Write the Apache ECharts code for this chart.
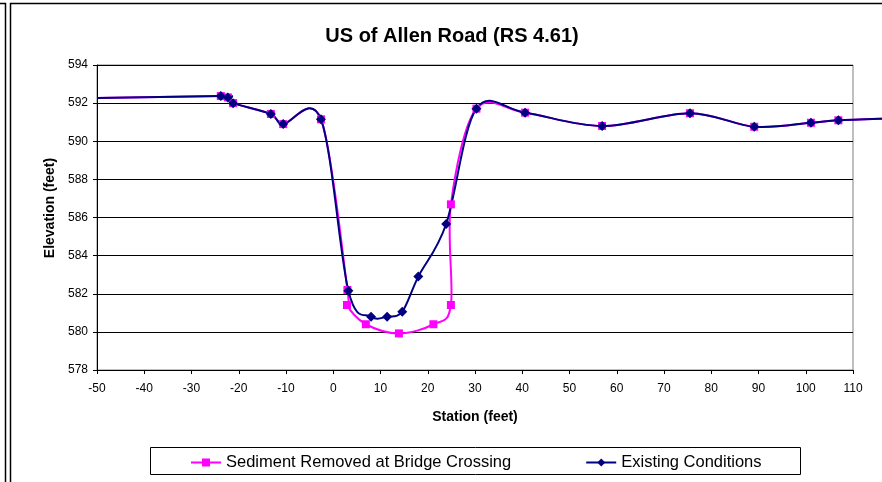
<!DOCTYPE html>
<html>
<head>
<meta charset="utf-8">
<script src="https://cdn.jsdelivr.net/npm/echarts@6/dist/echarts.min.js"></script>
<style>
  html, body { margin: 0; padding: 0; background: #fff; }
  #chart { width: 882px; height: 482px; }
</style>
</head>
<body>
<div id="chart"></div>
<script>
// station (feet) / elevation (feet)
const sedimentX = [-50, -23.8, -22.3, -21.2, -13.2, -10.6, -2.6, 3.0, 2.9, 6.9, 13.9, 21.2, 24.9, 24.9, 30.3, 40.6, 56.9, 75.5, 89.1, 101.1, 106.9, 118]
const sedimentY = [592.27, 592.37, 592.3, 592.0, 591.43, 590.9, 591.15, 582.2, 581.41, 580.4, 579.92, 580.4, 581.41, 586.69, 591.71, 591.5, 590.8, 591.47, 590.76, 590.97, 591.1, 591.2]
const existingX = [-50, -23.8, -22.3, -21.2, -13.2, -10.6, -2.6, 3.2, 8.0, 11.4, 14.6, 18.0, 23.9, 30.3, 40.6, 56.9, 75.5, 89.1, 101.1, 106.9, 118]
const existingY = [592.27, 592.37, 592.3, 592.0, 591.43, 590.9, 591.15, 582.16, 580.8, 580.8, 581.06, 582.9, 585.66, 591.71, 591.5, 590.8, 591.47, 590.76, 590.97, 591.1, 591.2]

const font = 'Liberation Sans, Arial, sans-serif'
const PINK = '#ff00ff'
const NAVY = '#000080'

// end points sit on / past the frame and carry no marker
function toData (xs, ys) {
    return xs.map((x, i) => {
        const item = { value: [x, ys[i]] }
        if (x <= -50 || x > 110) item.symbol = 'none'
        return item
    })
}

// excel-style smoothed line (catmull-rom bezier in screen space)
function smoothPath (pts) {
    let d = 'M' + pts[0][0] + ' ' + pts[0][1]
    for (let i = 0; i < pts.length - 1; i++) {
        const p0 = pts[Math.max(0, i - 1)], p1 = pts[i], p2 = pts[i + 1], p3 = pts[Math.min(pts.length - 1, i + 2)]
        const c1 = [p1[0] + (p2[0] - p0[0]) / 6, p1[1] + (p2[1] - p0[1]) / 6]
        const c2 = [p2[0] - (p3[0] - p1[0]) / 6, p2[1] - (p3[1] - p1[1]) / 6]
        d += 'C' + c1[0] + ' ' + c1[1] + ' ' + c2[0] + ' ' + c2[1] + ' ' + p2[0] + ' ' + p2[1]
    }
    return d
}

function curveSeries (xs, ys, color) {
    return {
        type: 'custom', coordinateSystem: 'cartesian2d', silent: true,
        data: xs.map((x, i) => [x, ys[i]]),
        encode: { x: 0, y: 1 },
        renderItem (params, api) {
            if (params.dataIndex !== 0) return null
            const pts = xs.map((x, i) => api.coord([x, ys[i]]))
            return {
                type: 'path',
                shape: { pathData: smoothPath(pts) },
                style: { fill: null, stroke: color, lineWidth: 2 }
            }
        }
    }
}

function markerSeries (name, xs, ys, color, symbol, size) {
    return {
        name, type: 'line', clip: false,
        data: toData(xs, ys),
        symbol, symbolSize: size, showSymbol: true,
        lineStyle: { color, width: 2, opacity: 0 },
        itemStyle: { color }
    }
}

const ec = echarts.init(document.getElementById('chart'))
ec.setOption({
    animation: false,
    title: {
        text: 'US of Allen Road (RS 4.61)',
        left: 447, top: 21, textAlign: 'center',
        textStyle: { fontFamily: font, fontSize: 20, fontWeight: 'bold', color: '#000' }
    },
    grid: { left: 97, right: 29, top: 65, bottom: 112, show: true, borderColor: '#808080', borderWidth: 1 },
    xAxis: {
        type: 'value', min: -50, max: 110, interval: 10,
        name: 'Station (feet)', nameLocation: 'middle', nameGap: 40,
        nameTextStyle: { fontFamily: font, fontSize: 14, fontWeight: 'bold', color: '#000' },
        axisLine: { onZero: false, lineStyle: { color: '#000' } },
        axisTick: { length: 4, lineStyle: { color: '#000' } },
        axisLabel: { fontFamily: font, fontSize: 12, color: '#000', margin: 13 },
        splitLine: { show: false }
    },
    yAxis: {
        type: 'value', min: 578, max: 594, interval: 2,
        axisLine: { show: true, onZero: false, lineStyle: { color: '#000' } },
        axisTick: { show: true, length: 4, lineStyle: { color: '#000' } },
        axisLabel: { fontFamily: font, fontSize: 12, color: '#000', margin: 9 },
        splitLine: { show: true, lineStyle: { color: '#000', width: 1 } }
    },
    legend: {
        left: 190, top: 454, padding: 0, itemWidth: 30, itemHeight: 10, itemGap: 74,
        textStyle: { fontFamily: font, fontSize: 16.5, color: '#000' },
        lineStyle: { width: 2, opacity: 1 },
        data: ['Sediment Removed at Bridge Crossing', 'Existing Conditions']
    },
    graphic: [
        { type: 'rect', shape: { x: 150.5, y: 447.5, width: 650, height: 27 }, style: { fill: null, stroke: '#000', lineWidth: 1 }, z: -1 },
        { type: 'polyline', shape: { points: [[0, 3.5], [5.5, 3.5], [5.5, 482]] }, style: { fill: null, stroke: '#000', lineWidth: 1.5 } },
        { type: 'polyline', shape: { points: [[10.5, 482], [10.5, 3.5], [882, 3.5]] }, style: { fill: null, stroke: '#000', lineWidth: 1.5 } },
        {
            type: 'text', x: 50, y: 208, rotation: Math.PI / 2,
            style: { text: 'Elevation (feet)', font: 'bold 14px ' + font, fill: '#000', align: 'center', verticalAlign: 'middle' }
        }
    ],
    series: [
        curveSeries(sedimentX, sedimentY, PINK),
        markerSeries('Sediment Removed at Bridge Crossing', sedimentX, sedimentY, PINK, 'rect', 8),
        curveSeries(existingX, existingY, NAVY),
        markerSeries('Existing Conditions', existingX, existingY, NAVY, 'diamond', 10)
    ]
})
</script>
</body>
</html>
